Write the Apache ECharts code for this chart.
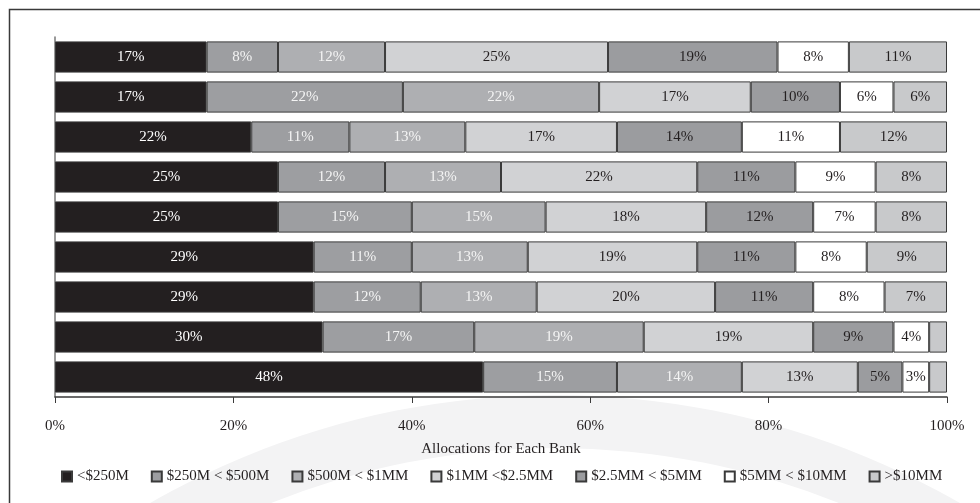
<!DOCTYPE html>
<html>
<head>
<meta charset="utf-8">
<script src="https://cdn.jsdelivr.net/npm/echarts@6/dist/echarts.min.js"></script>
<style>
html, body { margin: 0; padding: 0; background: #fff; }
#chart { width: 980px; height: 503px; }
</style>
</head>
<body>
<div id="chart"></div>
<script>
// one row per bank, top to bottom
var banks = ['Bank 1', 'Bank 2', 'Bank 3', 'Bank 4', 'Bank 5', 'Bank 6', 'Bank 7', 'Bank 8', 'Bank 9'];
var sizeClasses = ['<$250M', '$250M < $500M', '$500M < $1MM', '$1MM <$2.5MM', '$2.5MM < $5MM', '$5MM < $10MM', '>$10MM'];

var under250M   = [17, 17, 22, 25, 25, 29, 29, 30, 48];
var m250to500   = [8, 22, 11, 12, 15, 11, 12, 17, 15];
var m500to1MM   = [12, 22, 13, 13, 15, 13, 13, 19, 14];
var mm1to2_5    = [25, 17, 17, 22, 18, 19, 20, 19, 13];
var mm2_5to5    = [19, 10, 14, 11, 12, 11, 11, 9, 5];
var mm5to10     = [8, 6, 11, 9, 7, 8, 8, 4, 3];
var over10MM    = [11, 6, 12, 8, 8, 9, 7, 2, 2];

var xTicks = [0, 20, 40, 60, 80, 100];

var seriesData = [under250M, m250to500, m500to1MM, mm1to2_5, mm2_5to5, mm5to10, over10MM];
var fills = ['#231f20', '#9d9ea1', '#aeafb2', '#d1d2d4', '#9b9c9f', '#ffffff', '#c8c9cb'];
var labelColors = ['#ffffff', '#f4f4f4', '#f4f4f4', '#231f20', '#231f20', '#231f20', '#231f20'];
var serif = '"Liberation Serif", "DejaVu Serif", serif';

var myChart = echarts.init(document.getElementById('chart'));

var series = seriesData.map(function (d, i) {
    return {
        name: sizeClasses[i],
        type: 'bar',
        stack: 'total',
        barCategoryGap: '22%',
        data: d,
        itemStyle: {
            color: fills[i],
            borderColor: '#3a3a3a',
            borderWidth: 1
        },
        label: {
            show: true,
            position: 'inside',
            fontFamily: serif,
            fontSize: 15,
            color: labelColors[i],
            formatter: function (p) {
                return p.value >= 3 ? p.value + '%' : '';
            }
        },
        emphasis: { disabled: true }
    };
});

var option = {
    animation: false,
    graphic: [{
        // faint background swoosh
        type: 'ring',
        z: -10,
        shape: { cx: 555, cy: 1208, r: 813, r0: 760 },
        style: { fill: '#f3f3f4' }
    }, {
        type: 'polyline',
        shape: { points: [[9.5, 503], [9.5, 9.5], [980, 9.5]] },
        style: { stroke: '#3a3a3a', lineWidth: 1.5, fill: null }
    }],
    grid: {
        left: 55,
        right: 33,
        top: 37,
        bottom: 106
    },
    legend: {
        bottom: 14,
        left: 56,
        icon: 'rect',
        itemWidth: 10,
        itemHeight: 10,
        itemGap: 22,
        textStyle: {
            fontFamily: serif,
            fontSize: 15,
            color: '#231f20'
        },
        data: sizeClasses
    },
    xAxis: {
        type: 'value',
        min: 0,
        max: 100,
        interval: 20,
        name: 'Allocations for Each Bank',
        nameLocation: 'middle',
        nameGap: 45,
        nameTextStyle: {
            fontFamily: serif,
            fontSize: 15,
            color: '#231f20'
        },
        axisLine: { show: true, lineStyle: { color: '#3a3a3a', width: 1.5 } },
        axisTick: { show: true, length: 6, lineStyle: { color: '#3a3a3a' } },
        splitLine: { show: false },
        axisLabel: {
            fontFamily: serif,
            fontSize: 15,
            color: '#231f20',
            margin: 22,
            formatter: function (v) {
                return xTicks.indexOf(v) >= 0 ? v + '%' : '';
            }
        }
    },
    yAxis: {
        type: 'category',
        inverse: true,
        data: banks,
        axisLine: { show: true, lineStyle: { color: '#777', width: 1.5 } },
        axisTick: { show: false },
        axisLabel: { show: false }
    },
    series: series
};

myChart.setOption(option);
</script>
</body>
</html>
